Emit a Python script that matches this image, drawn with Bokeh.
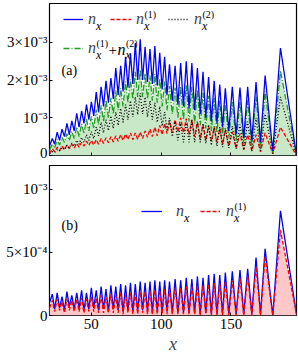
from bokeh.plotting import figure
from bokeh.layouts import column
from bokeh.models import Range1d, Legend, LegendItem, FixedTicker, Label
from bokeh.embed import file_html
from bokeh.resources import INLINE

# positions of the local minima / maxima of the oscillating densities (site index x)
x_trough = [20, 23.7, 27.2, 30.7, 34.2, 37.7, 41.2, 44.7, 48.2, 51.7,
            55.2, 58.7, 62.2, 65.7, 69.2, 72.7, 76.2, 79.7, 83.2, 86.7,
            90.2, 93.7, 97.2, 100.7, 104.2, 108, 112, 116, 120, 124,
            128, 132, 136, 140, 144, 148.5, 153.7, 159.2, 165, 171.2,
            180, 197]
x_peak = [22, 25.5, 29, 32.5, 36, 39.5, 43, 46.5, 50, 53.5,
          57, 60.5, 64, 67.5, 71, 74.5, 78, 81.5, 85, 88.5,
          92, 95.5, 99, 102.5, 106, 110, 114, 118, 122, 126,
          130, 134, 138, 142, 146, 151, 156.5, 162, 168, 174.5,
          185.5]

# panel (a), values in units of 1e-3
a_nx_peak = [0.45, 0.62, 0.7, 0.85, 0.92, 1.12, 1.18, 1.35, 1.42, 1.68,
             1.82, 1.98, 2.05, 2.32, 2.38, 2.62, 2.7, 2.98, 3.08, 2.88,
             2.82, 2.9, 2.72, 2.62, 2.42, 2.38, 2.45, 2.5, 2.45, 2.32,
             2.22, 2.08, 1.98, 1.88, 1.78, 1.82, 1.8, 1.82, 1.95, 2.12,
             2.85]
a_nx_trough = [0.25, 0.3, 0.4, 0.5, 0.55, 0.65, 0.75, 0.85, 0.95, 1.05,
               1.15, 1.3, 1.4, 1.5, 1.6, 1.7, 1.8, 1.9, 2.0, 2.0,
               1.95, 1.9, 1.85, 1.75, 1.6, 1.45, 1.35, 1.3, 1.25, 1.2,
               1.1, 1.0, 0.9, 0.85, 0.75, 0.65, 0.55, 0.45, 0.4, 0.35,
               0.12, 0.0]
a_n1_peak = [0.18, 0.22, 0.25, 0.28, 0.3, 0.32, 0.35, 0.38, 0.4, 0.42,
             0.45, 0.47, 0.5, 0.52, 0.55, 0.57, 0.6, 0.6, 0.62, 0.65,
             0.7, 0.75, 0.8, 0.85, 0.9, 0.95, 1.0, 0.98, 0.95, 0.88,
             0.82, 0.78, 0.75, 0.72, 0.68, 0.62, 0.58, 0.55, 0.55, 0.6,
             0.75]
a_n1_trough = [0.05, 0.1, 0.13, 0.15, 0.18, 0.2, 0.22, 0.25, 0.27, 0.28,
               0.3, 0.32, 0.34, 0.36, 0.38, 0.4, 0.42, 0.42, 0.43, 0.45,
               0.48, 0.5, 0.52, 0.55, 0.58, 0.6, 0.62, 0.6, 0.55, 0.5,
               0.45, 0.4, 0.38, 0.35, 0.3, 0.25, 0.2, 0.15, 0.12, 0.1,
               0.05, 0.0]
a_n2_peak = [0.1, 0.15, 0.22, 0.27, 0.33, 0.4, 0.48, 0.55, 0.63, 0.75,
             0.88, 0.95, 1.05, 1.15, 1.25, 1.35, 1.45, 1.55, 1.65, 1.55,
             1.45, 1.4, 1.3, 1.15, 1.0, 0.9, 0.85, 0.9, 0.95, 0.9,
             0.85, 0.82, 0.78, 0.75, 0.72, 0.78, 0.82, 0.9, 1.0, 1.1,
             1.55]
a_n2_trough = [0.05, 0.08, 0.12, 0.16, 0.2, 0.25, 0.3, 0.35, 0.4, 0.45,
               0.52, 0.6, 0.66, 0.72, 0.8, 0.88, 0.95, 1.02, 1.08, 1.1,
               1.02, 0.95, 0.88, 0.78, 0.68, 0.5, 0.4, 0.35, 0.35, 0.35,
               0.35, 0.32, 0.27, 0.25, 0.22, 0.2, 0.18, 0.15, 0.13, 0.12,
               0.05, 0.0]
a_sum_peak = [0.3, 0.42, 0.48, 0.58, 0.64, 0.76, 0.84, 0.97, 1.04, 1.22,
              1.33, 1.47, 1.53, 1.72, 1.78, 1.96, 2.02, 2.22, 2.28, 2.18,
              2.12, 2.16, 2.04, 1.96, 1.84, 1.8, 1.83, 1.86, 1.82, 1.74,
              1.66, 1.58, 1.52, 1.45, 1.4, 1.42, 1.42, 1.46, 1.56, 1.7,
              2.25]
a_sum_trough = [0.15, 0.2, 0.28, 0.35, 0.4, 0.45, 0.5, 0.58, 0.65, 0.72,
                0.82, 0.9, 1.0, 1.1, 1.2, 1.3, 1.4, 1.5, 1.55, 1.55,
                1.5, 1.45, 1.4, 1.3, 1.2, 1.1, 1.0, 0.95, 0.9, 0.85,
                0.8, 0.72, 0.65, 0.6, 0.52, 0.45, 0.38, 0.3, 0.25, 0.22,
                0.08, 0.0]

# panel (b), values in units of 1e-3
b_nx_peak = [0.17, 0.18, 0.15, 0.19, 0.16, 0.18, 0.2, 0.18, 0.22, 0.2,
             0.23, 0.21, 0.24, 0.23, 0.25, 0.24, 0.26, 0.25, 0.27, 0.26,
             0.27, 0.28, 0.27, 0.28, 0.27, 0.29, 0.28, 0.3, 0.29, 0.31,
             0.3, 0.32, 0.33, 0.32, 0.34, 0.35, 0.36, 0.37, 0.46, 0.53,
             0.83]
b_nx_trough = [0.1, 0.05, 0.06, 0.04, 0.07, 0.05, 0.06, 0.04, 0.05, 0.06,
               0.04, 0.05, 0.03, 0.05, 0.04, 0.03, 0.04, 0.03, 0.03, 0.04,
               0.03, 0.02, 0.03, 0.02, 0.03, 0.02, 0.02, 0.02, 0.02, 0.02,
               0.01, 0.02, 0.01, 0.01, 0.01, 0.01, 0.01, 0.01, 0.01, 0.01,
               0.0, 0.01]
b_n1_peak = [0.12, 0.13, 0.11, 0.13, 0.12, 0.13, 0.14, 0.13, 0.15, 0.14,
             0.16, 0.15, 0.17, 0.16, 0.18, 0.17, 0.18, 0.18, 0.19, 0.19,
             0.2, 0.2, 0.2, 0.21, 0.21, 0.22, 0.22, 0.23, 0.23, 0.24,
             0.24, 0.25, 0.26, 0.26, 0.27, 0.28, 0.3, 0.32, 0.39, 0.47,
             0.68]
b_n1_trough = [0.06, 0.03, 0.04, 0.02, 0.04, 0.03, 0.03, 0.02, 0.03, 0.03,
               0.02, 0.02, 0.02, 0.02, 0.02, 0.01, 0.02, 0.01, 0.01, 0.02,
               0.01, 0.01, 0.01, 0.01, 0.01, 0.01, 0.01, 0.01, 0.01, 0.01,
               0.0, 0.01, 0.0, 0.0, 0.0, 0.0, 0.0, 0.0, 0.0, 0.0,
               0.0, 0.01]

x_ticks = [50, 100, 150]
a_yticks = {0: "0", 1: "10⁻³", 2: "2×10⁻³", 3: "3×10⁻³"}
b_yticks = {0: "0", 0.5: "5×10⁻⁴", 1: "10⁻³"}


def interleave(tr, pk):
    out = []
    for i in range(len(pk)):
        out.append(tr[i])
        out.append(pk[i])
    out.append(tr[-1])
    return out


xs = interleave(x_trough, x_peak)
a_nx = interleave(a_nx_trough, a_nx_peak)
a_n1 = interleave(a_n1_trough, a_n1_peak)
a_n2 = interleave(a_n2_trough, a_n2_peak)
a_sum = interleave(a_sum_trough, a_sum_peak)
b_nx = interleave(b_nx_trough, b_nx_peak)
b_n1 = interleave(b_n1_trough, b_n1_peak)

SERIF = "Liberation Serif"
BLUE, RED, GREEN = "#0000ff", "#ff0000", "#1e9e1e"

# layout (pixels)
W = 298
FL, FR = 49, 296          # frame left/right
A_TOP, A_BOT = 3, 155     # frame (a)
B_TOP, B_BOT = 165, 315   # frame (b)
XMIN, XMAX = 20, 197
A_YMAX = 4.03
B_YMAX = 1.19


def style(p, ticks, labels):
    p.outline_line_color = "black"
    p.outline_line_width = 1.2
    p.grid.grid_line_color = None
    for ax in p.axis:
        ax.axis_line_color = None
        ax.major_tick_in = 3
        ax.major_tick_out = 0
        ax.minor_tick_line_color = None
        ax.major_tick_line_color = "black"
        ax.major_label_text_font = SERIF
        ax.major_label_text_color = "black"
    p.xaxis.ticker = FixedTicker(ticks=x_ticks)
    p.yaxis.ticker = FixedTicker(ticks=ticks)
    p.yaxis.major_label_overrides = labels
    p.yaxis.major_label_text_font_size = "15px"
    p.yaxis.major_label_standoff = 2


def px_x(px):
    return XMIN + (px - FL) * (XMAX - XMIN) / (FR - FL)


def px_ya(py):
    return (A_BOT - py) * A_YMAX / (A_BOT - A_TOP)


def px_yb(py):
    return (B_BOT - py) * B_YMAX / (B_BOT - B_TOP)


def txt(p, x, y, s, size, italic=False):
    p.add_layout(Label(x=x, y=y, text=s, text_font=SERIF, text_font_size=size,
                       text_font_style="italic" if italic else "normal",
                       text_baseline="middle", text_align="left",
                       text_color="black"))


def make_legend(items, loc, glyph_w, standoff, spacing, label_w):
    return Legend(items=items, orientation="horizontal", location=loc,
                  margin=0, padding=0, spacing=spacing, glyph_width=glyph_w,
                  glyph_height=16, label_standoff=standoff, label_width=label_w,
                  label_text_font=SERIF, label_text_font_style="italic",
                  label_text_font_size="16px", label_height=16,
                  background_fill_alpha=0, border_line_color=None)


# ---------- panel (a)
pa = figure(width=W, height=160, output_backend="svg", toolbar_location=None,
            x_range=Range1d(XMIN, XMAX), y_range=Range1d(0, A_YMAX),
            min_border_left=FL, min_border_right=W - FR, min_border_top=A_TOP,
            min_border_bottom=5, background_fill_color="white")
style(pa, [0, 1, 2, 3], a_yticks)
pa.xaxis.major_label_overrides = {50: "", 100: "", 150: ""}
pa.xaxis.major_label_standoff = 0

pa.varea(x=xs, y1=[0] * len(xs), y2=a_sum, fill_color="#c8e8c8", fill_alpha=1)
r_n1 = pa.line(xs, a_n1, line_color=RED, line_width=1.3, line_dash="4 2")
r_n2 = pa.line(xs, a_n2, line_color="black", line_width=1.3, line_dash="1 2")
r_sum = pa.line(xs, a_sum, line_color=GREEN, line_width=1.3, line_dash="6 2 1 2")
r_nx = pa.line(xs, a_nx, line_color=BLUE, line_width=1.3)

# legend row 1: centre at y=20 px, row 2: centre at y=49 px
pa.add_layout(make_legend([LegendItem(label="n", renderers=[r_nx])],
                          (63 - FL, A_BOT - 28), 20, 5, 0, 10))
pa.add_layout(make_legend([LegendItem(label="n", renderers=[r_n1])],
                          (110 - FL, A_BOT - 28), 21, 5, 0, 10))
pa.add_layout(make_legend([LegendItem(label="n", renderers=[r_n2])],
                          (168 - FL, A_BOT - 28), 20, 6, 0, 10))
pa.add_layout(make_legend([LegendItem(label="n", renderers=[r_sum])],
                          (63 - FL, A_BOT - 57), 20, 5, 0, 10))
# sub/superscripts of the legend labels
txt(pa, px_x(95.5), px_ya(25), "x", "12px", True)
txt(pa, px_x(143.5), px_ya(25), "x", "12px", True)
txt(pa, px_x(144), px_ya(13.5), "(1)", "10px")
txt(pa, px_x(201.5), px_ya(25), "x", "12px", True)
txt(pa, px_x(202), px_ya(13.5), "(2)", "10px")
txt(pa, px_x(95.5), px_ya(54), "x", "12px", True)
txt(pa, px_x(96), px_ya(42.5), "(1)", "10px")
txt(pa, px_x(108), px_ya(49), "+", "15px")
txt(pa, px_x(117), px_ya(49), "n", "16px", True)
txt(pa, px_x(125), px_ya(54), "x", "12px", True)
txt(pa, px_x(125.5), px_ya(42.5), "(2)", "10px")
txt(pa, px_x(61), px_ya(70), "(a)", "14px")

# ---------- panel (b)
pb = figure(width=W, height=196, output_backend="svg", toolbar_location=None,
            x_range=Range1d(XMIN, XMAX), y_range=Range1d(0, B_YMAX),
            min_border_left=FL, min_border_right=W - FR, min_border_top=5,
            min_border_bottom=0, background_fill_color="white")
style(pb, [0, 0.5, 1], b_yticks)
pb.xaxis.major_label_text_font_size = "15px"
pb.xaxis.major_label_standoff = 3
pb.xaxis.axis_label = "x"
pb.xaxis.axis_label_text_font = SERIF
pb.xaxis.axis_label_text_font_style = "italic"
pb.xaxis.axis_label_text_font_size = "18px"
pb.xaxis.axis_label_standoff = 2

pb.varea(x=xs, y1=[0] * len(xs), y2=b_n1, fill_color="#ffc8c8", fill_alpha=1)
rb_nx = pb.line(xs, b_nx, line_color=BLUE, line_width=1.3)
rb_n1 = pb.line(xs, b_n1, line_color=RED, line_width=1.3, line_dash="4 2")

pb.add_layout(make_legend([LegendItem(label="n", renderers=[rb_nx])],
                          (141 - FL, B_BOT - 220), 21, 14, 0, 10))
pb.add_layout(make_legend([LegendItem(label="n", renderers=[rb_n1])],
                          (200 - FL, B_BOT - 220), 20, 6, 0, 10))
txt(pb, px_x(183.5), px_yb(217), "x", "12px", True)
txt(pb, px_x(233.5), px_yb(217), "x", "12px", True)
txt(pb, px_x(234), px_yb(205.5), "(1)", "10px")
txt(pb, px_x(61), px_yb(225), "(b)", "14px")

layout = column(pa, pb, spacing=0)
open("out.html", "w").write(file_html(layout, INLINE))
